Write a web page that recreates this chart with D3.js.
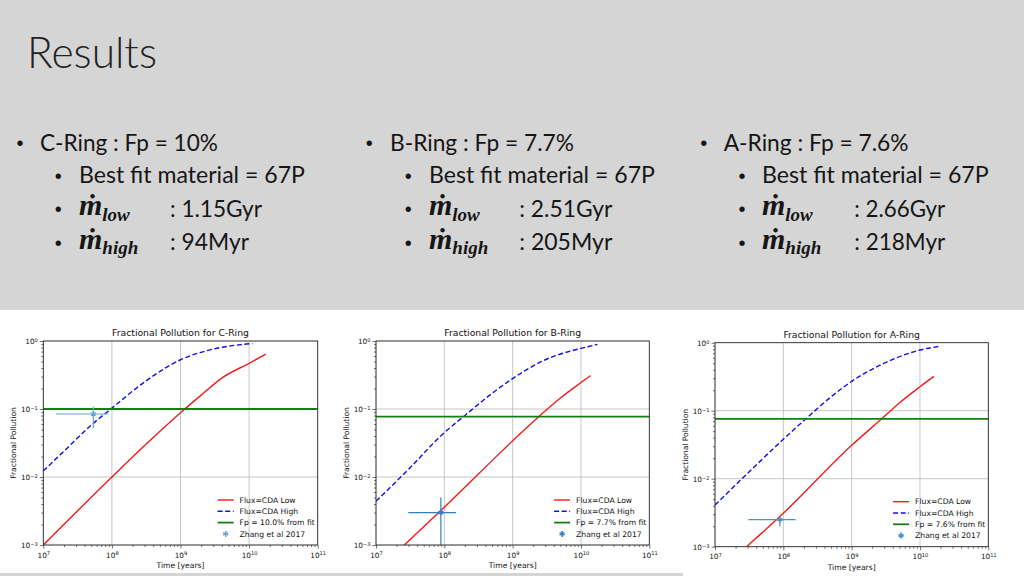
<!DOCTYPE html>
<html><head><meta charset="utf-8">
<script src="https://cdn.jsdelivr.net/npm/d3@7"></script>
<style>html,body{margin:0;padding:0;background:#d4d4d4;overflow:hidden}svg{display:block}</style>
</head><body>
<svg id="s" width="1024" height="576"></svg>
<script>
// ---------------- data ----------------
const rings = ["C-Ring", "B-Ring", "A-Ring"];
const fpPercent = ["10%", "7.7%", "7.6%"];
const fpFit = [0.100, 0.077, 0.076];
const fpLegend = ["10.0%", "7.7%", "7.6%"];
const bestFit = ["67P", "67P", "67P"];
const mLowAge = ["1.15Gyr", "2.51Gyr", "2.66Gyr"];
const mHighAge = ["94Myr", "205Myr", "218Myr"];
const timeTicks = [1e7, 1e8, 1e9, 1e10, 1e11];
const fracTicks = [1e-3, 1e-2, 1e-1, 1e0];

// Flux = CDA Low (red)
const lowC_t = [1e7, 1e8, 3e8, 1e9, 2e9, 4e9, 1e10, 1.75e10];
const lowC_f = [0.001, 0.01, 0.029, 0.088, 0.16, 0.285, 0.47, 0.64];
const lowB_t = [2.6e7, 1e8, 1e9, 2.4e9, 5e9, 1e10, 1.38e10];
const lowB_f = [0.001, 0.0036, 0.034, 0.077, 0.145, 0.245, 0.31];
const lowA_t = [2.9e7, 1e8, 1e9, 2.75e9, 5e9, 1e10, 1.6e10];
const lowA_f = [0.001, 0.0031, 0.031, 0.076, 0.13, 0.225, 0.32];
// Flux = CDA High (blue dashed)
const highC_t = [1e7, 2e7, 5e7, 1e8, 3e8, 1e9, 3e9, 1e10, 1.12e10];
const highC_f = [0.0123, 0.024, 0.058, 0.103, 0.25, 0.53, 0.76, 0.91, 0.92];
const highB_t = [1e7, 3e7, 1e8, 1.9e8, 5e8, 1e9, 3e9, 1e10, 1.74e10];
const highB_f = [0.0044, 0.013, 0.045, 0.077, 0.17, 0.28, 0.53, 0.78, 0.89];
const highA_t = [1e7, 3e7, 1e8, 2.14e8, 5e8, 1e9, 3e9, 1e10, 2.03e10];
const highA_f = [0.0041, 0.012, 0.038, 0.076, 0.16, 0.27, 0.50, 0.78, 0.89];
// Zhang et al 2017 points: [t, f, tLow, tHigh, fLow, fHigh]
const zhangC = [5.36e7, 0.0844, 1.53e7, 8.97e7, 0.052, 0.108];
const zhangB = [8.9e7, 0.003, 2.97e7, 1.48e8, 0.0008, 0.005];
const zhangA = [8.9e7, 0.0025, 3.08e7, 1.51e8, 0.002, 0.0028];

const lowSeries = [[lowC_t, lowC_f], [lowB_t, lowB_f], [lowA_t, lowA_f]];
const highSeries = [[highC_t, highC_f], [highB_t, highB_f], [highA_t, highA_f]];
const zhang = [zhangC, zhangB, zhangA];

// ---------------- layout & style ----------------
const svg = d3.select("#s");
const layouts = [
  {x0: 43.3, x1: 317.7, y0: 341, y1: 545},
  {x0: 376, x1: 649.3, y0: 341, y1: 545},
  {x0: 715, x1: 988.3, y0: 342.7, y1: 546.7}
];
const colLow = "#f21b1b", colHigh = "#1010e8", colFit = "#118011";
const zhangColors = ["#63a5d4", "#2f82c2", "#4a93c9"];
const chartFont = "DejaVu Sans";
const slideFont = "Lato, 'Open Sans', sans-serif";
const mathFont = "'Liberation Serif', 'DejaVu Serif', serif";

// background
svg.append("rect").attr("width", 1024).attr("height", 576).attr("fill", "#d5d5d5");
svg.append("rect").attr("x", 0).attr("y", 310).attr("width", 1024).attr("height", 263).attr("fill", "#fff");
svg.append("rect").attr("x", 683).attr("y", 572).attr("width", 341).attr("height", 4).attr("fill", "#fff");

function fitWidth(sel, target) {
  const w = sel.node().getComputedTextLength();
  const fs = parseFloat(sel.attr("font-size"));
  sel.attr("font-size", (fs * target / w).toFixed(2));
}
function sizeFor(str, target, family) {
  const t = svg.append("text").attr("font-family", family).attr("font-size", 10).text(str);
  const w = t.node().getComputedTextLength();
  t.remove();
  return 10 * target / w;
}
const fsTitle = sizeFor("Fractional Pollution for C-Ring", 137, chartFont);
const fsLegend = sizeFor("Flux=CDA Low", 56, chartFont);
const fsYLabel = sizeFor("Fractional Pollution", 71.7, chartFont);
const fsXLabel = sizeFor("Time [years]", 48, chartFont);
const fsTick = sizeFor("10", 9.3, chartFont);

// ---------------- slide text ----------------
const title = svg.append("text").attr("x", 27).attr("y", 68).attr("font-family", slideFont)
  .attr("font-weight", 300).attr("font-size", 44).attr("fill", "#222").text("Results");
fitWidth(title, 130);

const cols = [
  {b1: 20, t1: 40, w1: 178, b2: 58.3, t2: 79, w2: 226, v: 170, wv1: 92, wv2: 79},
  {b1: 369.3, t1: 390, w1: 184, b2: 408.3, t2: 429, w2: 226, v: 519.3, wv1: 93, wv2: 93},
  {b1: 703.7, t1: 723.7, w1: 185, b2: 742, t2: 762, w2: 226.7, v: 854.3, wv1: 91, wv2: 91}
];
const baseFs = 24;
rings.forEach((r, i) => {
  const c = cols[i];
  const tc = "#161616";
  const bullet = (x, y) => svg.append("text").attr("x", x).attr("y", y).attr("text-anchor", "middle")
    .attr("font-family", "'Liberation Sans', Arial").attr("font-size", 20).attr("fill", tc).text("•");
  bullet(c.b1, 150);
  const t1 = svg.append("text").attr("x", c.t1).attr("y", 150.7).attr("font-family", slideFont)
    .attr("font-size", baseFs).attr("fill", tc).text(`${r} : Fp = ${fpPercent[i]}`);
  fitWidth(t1, c.w1);
  bullet(c.b2, 183);
  const t2 = svg.append("text").attr("x", c.t2).attr("y", 183.3).attr("font-family", slideFont)
    .attr("font-size", baseFs).attr("fill", tc).text(`Best fit material = ${bestFit[i]}`);
  fitWidth(t2, c.w2);
  [["low", mLowAge[i], 215, 216.7, 220.5], ["high", mHighAge[i], 249.3, 250, 254]].forEach((row, k) => {
    bullet(c.b2, row[3] - 0.5);
    const m = svg.append("text").attr("x", c.t2).attr("y", row[2]).attr("font-family", mathFont)
      .attr("font-weight", "bold").attr("font-style", "italic").attr("fill", tc);
    m.append("tspan").attr("font-size", 30).text("\u1E41");
    m.append("tspan").attr("font-size", 19).attr("dy", row[4] - row[2]).text(row[0]);
    const v = svg.append("text").attr("x", c.v).attr("y", row[3]).attr("font-family", slideFont)
      .attr("font-size", baseFs).attr("fill", tc).text(": " + row[1]);
    fitWidth(v, k === 0 ? c.wv1 : c.wv2);
  });
});

// ---------------- charts ----------------
function supLabel(sel, d) {
  const e = Math.round(Math.log10(d));
  sel.text(null);
  sel.append("tspan").text("10");
  sel.append("tspan").attr("dy", "-0.5em").attr("font-size", "0.7em").text(String(e).replace("-", "\u2212"));
}
function minorVals(lo, hi) {
  const out = [];
  for (let k = lo; k < hi; k++) for (let m = 2; m <= 9; m++) out.push(m * Math.pow(10, k));
  return out;
}

function drawChart(i) {
  const L = layouts[i];
  const x = d3.scaleLog().domain([1e7, 1e11]).range([L.x0, L.x1]);
  const y = d3.scaleLog().domain([1e-3, 1]).range([L.y1, L.y0]);
  const g = svg.append("g").attr("font-family", chartFont);
  const clipId = "clip" + i;
  svg.append("clipPath").attr("id", clipId).append("rect")
    .attr("x", L.x0).attr("y", L.y0).attr("width", L.x1 - L.x0).attr("height", L.y1 - L.y0);

  // grid
  g.append("g").selectAll("line").data(timeTicks).join("line")
    .attr("x1", d => x(d)).attr("x2", d => x(d)).attr("y1", L.y0).attr("y2", L.y1)
    .attr("stroke", "#b8b8b8").attr("stroke-width", 0.8);
  g.append("g").selectAll("line").data(fracTicks).join("line")
    .attr("y1", d => y(d)).attr("y2", d => y(d)).attr("x1", L.x0).attr("x2", L.x1)
    .attr("stroke", "#b8b8b8").attr("stroke-width", 0.8);

  // axes
  const xa = g.append("g").attr("transform", `translate(0,${L.y1})`)
    .call(d3.axisBottom(x).tickValues(timeTicks).tickSize(3.5).tickPadding(2));
  const xm = g.append("g").attr("transform", `translate(0,${L.y1})`)
    .call(d3.axisBottom(x).tickValues(minorVals(7, 11)).tickSize(2).tickFormat(""));
  const ya = g.append("g").attr("transform", `translate(${L.x0},0)`)
    .call(d3.axisLeft(y).tickValues(fracTicks).tickSize(3.5).tickPadding(2));
  const ym = g.append("g").attr("transform", `translate(${L.x0},0)`)
    .call(d3.axisLeft(y).tickValues(minorVals(-3, 0)).tickSize(2).tickFormat(""));
  [xa, xm, ya, ym].forEach(a => {
    a.select(".domain").remove();
    a.attr("font-family", chartFont).attr("font-size", fsTick);
    a.selectAll("line").attr("stroke", "#333").attr("stroke-width", 0.7);
    a.selectAll("text").attr("fill", "#111");
  });
  xa.selectAll(".tick text").each(function (d) { supLabel(d3.select(this), d); }).attr("dy", "1.0em");
  ya.selectAll(".tick text").each(function (d) { supLabel(d3.select(this), d); }).attr("dy", "0.4em");

  // curves
  const line = d3.line().x(d => x(d[0])).y(d => y(d[1])).curve(d3.curveMonotoneX);
  const plot = g.append("g").attr("clip-path", `url(#${clipId})`);
  plot.append("path").datum(d3.zip(lowSeries[i][0], lowSeries[i][1])).attr("d", line)
    .attr("fill", "none").attr("stroke", colLow).attr("stroke-width", 1.4);
  plot.append("path").datum(d3.zip(highSeries[i][0], highSeries[i][1])).attr("d", line)
    .attr("fill", "none").attr("stroke", colHigh).attr("stroke-width", 1.4).attr("stroke-dasharray", "5,2.6");
  plot.append("line").attr("x1", x(1e7)).attr("x2", x(1e11)).attr("y1", y(fpFit[i])).attr("y2", y(fpFit[i]))
    .attr("stroke", colFit).attr("stroke-width", 1.8);
  const z = zhang[i], zc = zhangColors[i];
  plot.append("line").attr("x1", x(z[2])).attr("x2", x(z[3])).attr("y1", y(z[1])).attr("y2", y(z[1]))
    .attr("stroke", zc).attr("stroke-width", 1.2);
  plot.append("line").attr("x1", x(z[0])).attr("x2", x(z[0])).attr("y1", y(z[4])).attr("y2", y(z[5]))
    .attr("stroke", zc).attr("stroke-width", 1.2);
  plot.append("path").attr("transform", `translate(${x(z[0])},${y(z[1])})`)
    .attr("d", d3.symbol(d3.symbolAsterisk, 22)()).attr("fill", "none").attr("stroke", zc).attr("stroke-width", 1.2);

  // frame
  g.append("rect").attr("x", L.x0).attr("y", L.y0).attr("width", L.x1 - L.x0).attr("height", L.y1 - L.y0)
    .attr("fill", "none").attr("stroke", "#222").attr("stroke-width", 0.8);

  // titles & labels
  g.append("text").attr("x", (L.x0 + L.x1) / 2).attr("y", L.y0 - 5).attr("text-anchor", "middle")
    .attr("font-size", fsTitle).attr("fill", "#111").text(`Fractional Pollution for ${rings[i]}`);
  g.append("text").attr("x", (L.x0 + L.x1) / 2).attr("y", L.y1 + 23).attr("text-anchor", "middle")
    .attr("font-size", fsXLabel).attr("fill", "#111").text("Time [years]");
  g.append("text").attr("transform", `translate(${L.x0 - 27.5},${(L.y0 + L.y1) / 2}) rotate(-90)`)
    .attr("text-anchor", "middle").attr("font-size", fsYLabel).attr("fill", "#111").text("Fractional Pollution");

  // legend
  const labels = ["Flux=CDA Low", "Flux=CDA High", `Fp = ${fpLegend[i]} from fit`, "Zhang et al 2017"];
  const lg = g.append("g").attr("font-size", fsLegend).attr("fill", "#111");
  const ly = k => L.y0 + 159 + k * 11.3;
  const texts = labels.map((t, k) => lg.append("text").attr("y", ly(k) + 2.7).text(t));
  const maxW = d3.max(texts, t => t.node().getComputedTextLength());
  const tx = L.x1 - 3 - maxW;
  texts.forEach(t => t.attr("x", tx));
  lg.append("line").attr("x1", tx - 22).attr("x2", tx - 6).attr("y1", ly(0)).attr("y2", ly(0))
    .attr("stroke", colLow).attr("stroke-width", 1.4);
  lg.append("line").attr("x1", tx - 22).attr("x2", tx - 6).attr("y1", ly(1)).attr("y2", ly(1))
    .attr("stroke", colHigh).attr("stroke-width", 1.4).attr("stroke-dasharray", "5,2.6");
  lg.append("line").attr("x1", tx - 22).attr("x2", tx - 6).attr("y1", ly(2)).attr("y2", ly(2))
    .attr("stroke", colFit).attr("stroke-width", 1.8);
  const mx = tx - 14, my = ly(3);
  lg.append("line").attr("x1", mx - 2.5).attr("x2", mx + 2.5).attr("y1", my).attr("y2", my).attr("stroke", zc).attr("stroke-width", 1.2);
  lg.append("line").attr("x1", mx).attr("x2", mx).attr("y1", my - 3).attr("y2", my + 3).attr("stroke", zc).attr("stroke-width", 1.2);
  lg.append("path").attr("transform", `translate(${mx},${my})`)
    .attr("d", d3.symbol(d3.symbolAsterisk, 22)()).attr("fill", "none").attr("stroke", zc).attr("stroke-width", 1.2);
}
[0, 1, 2].forEach(drawChart);
</script>
</body></html>
